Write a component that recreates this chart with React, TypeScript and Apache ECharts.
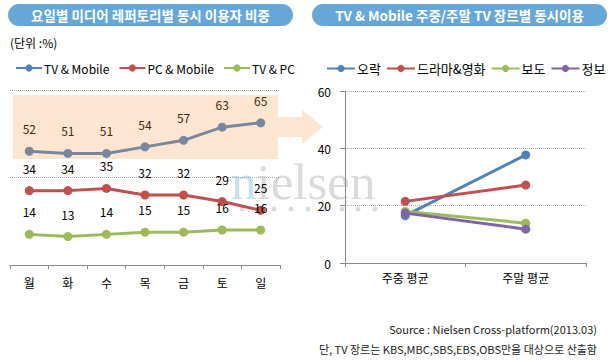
import React, { useEffect, useRef } from "react";
import * as echarts from "echarts";

const days = ["월", "화", "수", "목", "금", "토", "일"];
const tvMobile = [52, 51, 51, 54, 57, 63, 65];
const pcMobile = [34, 34, 35, 32, 32, 29, 25];
const tvPc = [14, 13, 14, 15, 15, 16, 16];

const periods = ["주중 평균", "주말 평균"];
const entertainment = [16.5, 37.7];
const drama = [21.5, 27.2];
const news = [18, 13.9];
const info = [17.4, 11.8];

const leftTitle = "요일별 미디어 레퍼토리별 동시 이용자 비중";
const rightTitle = "TV & Mobile 주중/주말 TV 장르별 동시이용";
const unitText = "(단위 :%)";
const sourceText = "Source : Nielsen Cross-platform(2013.03)";
const noteText = "단, TV 장르는 KBS,MBC,SBS,EBS,OBS만을 대상으로 산출함";

const FONT = "'Noto Sans CJK KR', 'Noto Sans', sans-serif";
const BLUE = "#4f81bd";
const RED = "#c0504d";
const GREEN = "#9bbb59";
const PURPLE = "#8064a2";

export default function App() {
  const ref = useRef<HTMLDivElement>(null);
  useEffect(() => {
    if (!ref.current) return;
    const chart = echarts.init(ref.current, undefined, { renderer: "svg" });

    const lineSeries = (name: string, data: number[], color: string, xi: number, label: boolean) => ({
      name,
      type: "line",
      xAxisIndex: xi,
      yAxisIndex: xi,
      data,
      symbol: "circle",
      symbolSize: 9,
      lineStyle: { color, width: 3 },
      itemStyle: { color },
      label: label
        ? { show: true, position: "top", distance: 12, color: "#000", fontSize: 12, fontFamily: FONT }
        : { show: false },
      z: 5,
    });

    const dots = [242, 258, 274, 291, 308, 325, 342, 358, 375].map((x) => ({
      type: "circle",
      shape: { cx: x, cy: 209, r: 2.5 },
      style: { fill: "#dcdcdc" },
      z: -1,
    }));

    chart.setOption({
      animation: false,
      textStyle: { fontFamily: FONT },
      grid: [
        { left: 10, top: 90, width: 270, height: 175, containLabel: false },
        { left: 345, top: 91, width: 241, height: 172, containLabel: false },
      ],
      xAxis: [
        {
          type: "category",
          gridIndex: 0,
          data: days,
          boundaryGap: true,
          axisLine: { lineStyle: { color: "#888", width: 1 } },
          axisTick: { show: true, length: 4, lineStyle: { color: "#888" } },
          axisLabel: { color: "#000", fontSize: 12, margin: 11, fontFamily: FONT },
        },
        {
          type: "category",
          gridIndex: 1,
          data: periods,
          boundaryGap: true,
          axisLine: { lineStyle: { color: "#888", width: 1 } },
          axisTick: { show: true, length: 4, lineStyle: { color: "#888" } },
          axisLabel: { color: "#000", fontSize: 12, margin: 8, fontFamily: FONT },
        },
      ],
      yAxis: [
        {
          type: "value",
          gridIndex: 0,
          min: 0,
          max: 80,
          interval: 40,
          axisLine: { show: false },
          axisTick: { show: false },
          axisLabel: { show: false },
          splitLine: { show: true, lineStyle: { color: "#aaa", type: "dotted", width: 1 } },
        },
        {
          type: "value",
          gridIndex: 1,
          min: 0,
          max: 60,
          interval: 20,
          axisLine: { show: true, lineStyle: { color: "#888", width: 1 } },
          axisTick: { show: true, length: 5, lineStyle: { color: "#888" } },
          axisLabel: { color: "#000", fontSize: 12, margin: 14, fontFamily: FONT },
          splitLine: { show: true, lineStyle: { color: "#aaa", type: "dotted", width: 1 } },
        },
      ],
      legend: [
        {
          data: ["TV & Mobile", "PC & Mobile", "TV & PC"],
          left: 10,
          top: 57,
          width: 300,
          itemWidth: 26,
          itemHeight: 9,
          itemGap: 9,
          textStyle: { color: "#000", fontSize: 12, fontFamily: FONT, padding: [0, 0, 0, -3] },
        },
        {
          data: ["오락", "드라마&영화", "보도", "정보"],
          left: 321,
          top: 57,
          width: 290,
          itemWidth: 28,
          itemHeight: 9,
          itemGap: 5,
          textStyle: { color: "#000", fontSize: 13, fontFamily: FONT, padding: [0, 0, 0, -3] },
        },
      ],
      graphic: [
        {
          type: "text",
          left: 231,
          top: 156,
          z: -1,
          style: {
            text: "{a|n}{b|ielsen}",
            rich: {
              a: { fill: "#c4e2f0", font: "51px 'Liberation Serif', serif" },
              b: { fill: "#dadada", font: "51px 'Liberation Serif', serif" },
            },
          },
        },
        ...dots,
        {
          type: "rect",
          shape: { x: 8, y: 4, width: 285, height: 22, r: 11 },
          style: { fill: "#67a7d8" },
        },
        {
          type: "text",
          x: 150.5,
          y: 15,
          style: {
            text: leftTitle,
            fill: "#fff",
            font: `bold 13.5px ${FONT}`,
            align: "center",
            verticalAlign: "middle",
          },
        },
        {
          type: "rect",
          shape: { x: 312, y: 4, width: 295, height: 22, r: 11 },
          style: { fill: "#67a7d8" },
        },
        {
          type: "text",
          x: 459.5,
          y: 15,
          style: {
            text: rightTitle,
            fill: "#fff",
            font: `bold 13.5px ${FONT}`,
            align: "center",
            verticalAlign: "middle",
          },
        },
        {
          type: "text",
          x: 10,
          y: 42,
          style: { text: unitText, fill: "#000", font: `12px ${FONT}`, verticalAlign: "middle" },
        },
        {
          type: "rect",
          shape: { x: 13, y: 95, width: 265, height: 64 },
          style: { fill: "rgba(247,150,70,0.25)" },
          z: 100,
        },
        {
          type: "rect",
          shape: { x: 278, y: 117, width: 24, height: 20 },
          style: { fill: "rgba(247,150,70,0.25)" },
          z: 100,
        },
        {
          type: "polygon",
          shape: { points: [[302, 110], [323, 127], [302, 144]] },
          style: { fill: "rgba(247,150,70,0.25)" },
          z: 100,
        },
        {
          type: "text",
          x: 597,
          y: 329,
          style: { text: sourceText, fill: "#222", font: `11px ${FONT}`, align: "right", verticalAlign: "middle" },
        },
        {
          type: "text",
          x: 597,
          y: 349,
          style: { text: noteText, fill: "#222", font: `11px ${FONT}`, align: "right", verticalAlign: "middle" },
        },
      ],
      series: [
        lineSeries("TV & Mobile", tvMobile, BLUE, 0, true),
        lineSeries("PC & Mobile", pcMobile, RED, 0, true),
        lineSeries("TV & PC", tvPc, GREEN, 0, true),
        lineSeries("오락", entertainment, BLUE, 1, false),
        lineSeries("드라마&영화", drama, RED, 1, false),
        lineSeries("보도", news, GREEN, 1, false),
        lineSeries("정보", info, PURPLE, 1, false),
      ],
    });
    return () => chart.dispose();
  }, []);
  return (
    <div
      ref={ref}
      style={{ position: "absolute", left: 0, top: 0, width: 615, height: 364, background: "#fff" }}
    />
  );
}
